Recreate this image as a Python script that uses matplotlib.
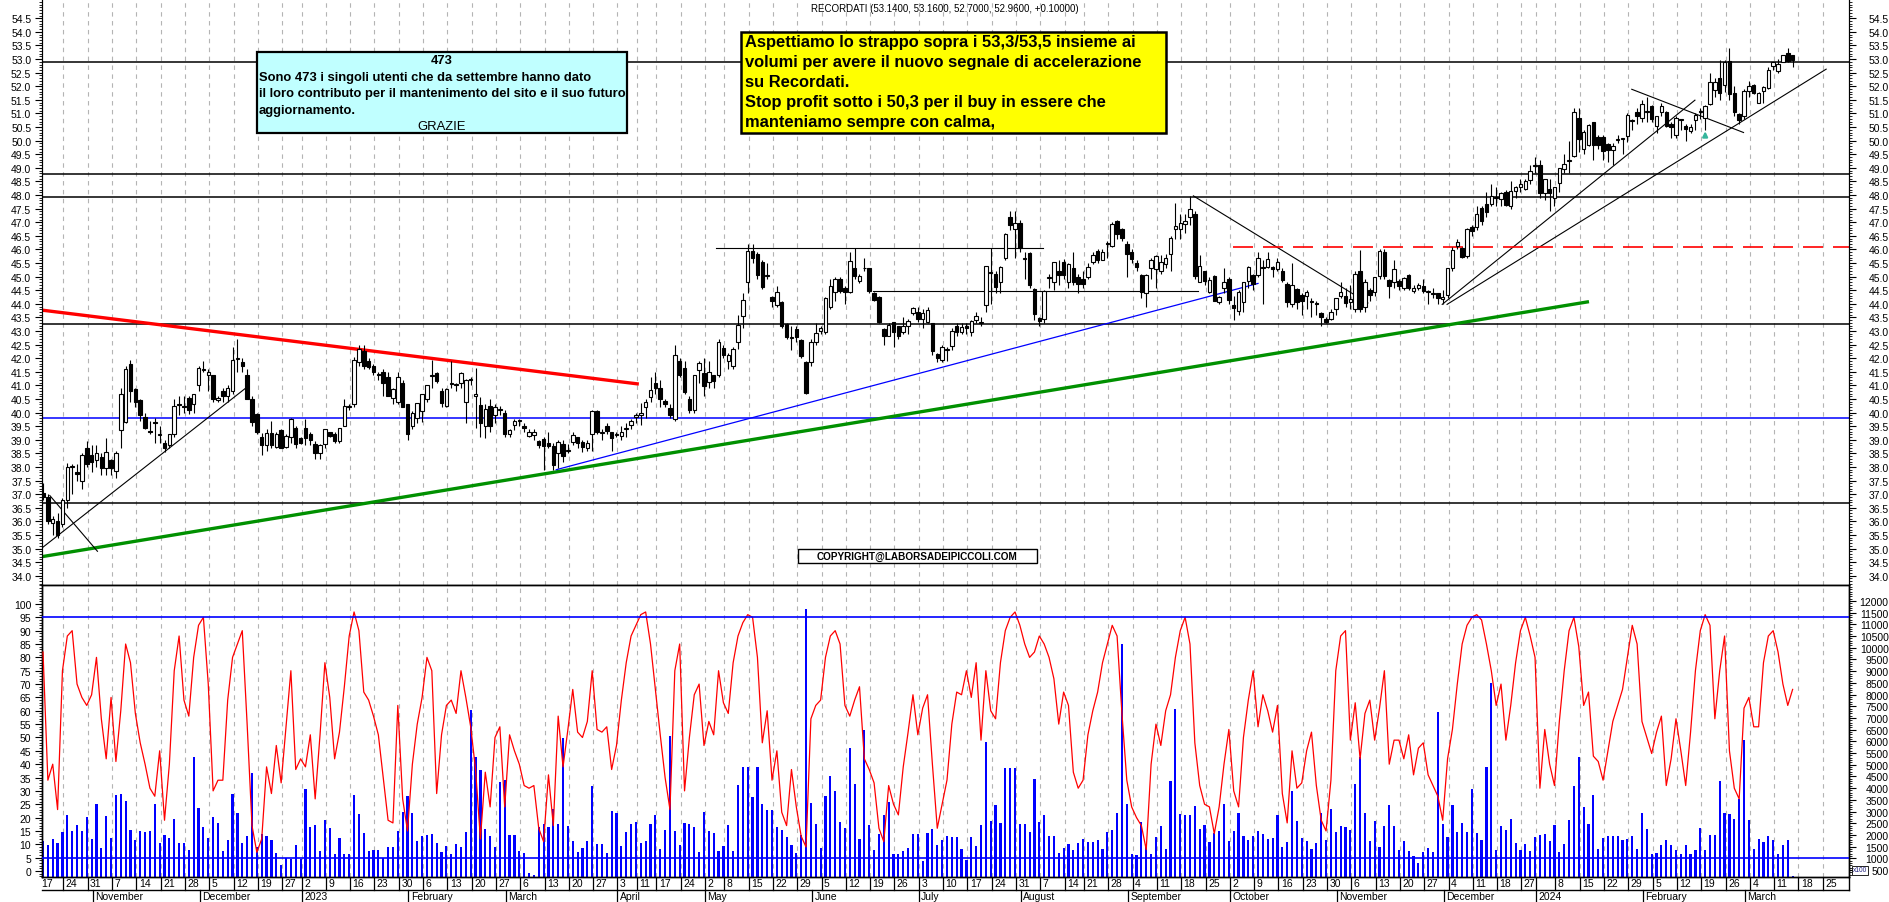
import numpy as np
import pandas as pd
import matplotlib
matplotlib.use("Agg")
import matplotlib.pyplot as plt
from matplotlib.patches import Rectangle
from matplotlib.ticker import MultipleLocator, FixedLocator
from matplotlib import font_manager

plt.rcParams['font.family'] = ['Liberation Sans', 'DejaVu Sans']

# ---------------- DATA ----------------
title = "RECORDATI (53.1400, 53.1600, 52.7000, 52.9600, +0.10000)"
start_date = '2022-10-17'
end_date = '2024-03-29'
holidays = ['2022-12-26', '2023-04-07', '2023-04-10', '2023-05-01', '2023-08-15',
            '2023-12-25', '2023-12-26', '2024-01-01']
skip_week_labels = ['2024-01-02']

opens = [
 37.05,36.9,35.95,36.0,35.9,36.8,38.0,37.8,37.5,38.7,
 38.45,38.25,38.35,37.95,38.25,37.85,39.35,39.65,41.8,40.85,
 40.45,39.85,39.3,39.65,39.18,38.9,38.8,39.2,40.3,40.25,
 40.55,40.3,41.0,41.55,41.4,41.4,40.45,40.8,40.62,40.78,
 41.97,41.85,41.4,40.5,39.95,39.1,38.8,39.25,38.75,39.35,
 38.72,39.12,39.45,39.05,39.45,39.23,38.85,38.5,38.85,39.3,
 39.2,38.95,39.5,40.2,40.3,41.85,42.28,41.9,41.7,41.4,
 41.5,41.3,40.55,40.4,41.1,40.3,39.5,39.8,40.05,40.5,
 41.33,41.45,40.8,40.25,41.05,41.0,41.1,40.4,41.2,40.6,
 40.28,39.52,40.25,39.9,40.1,40.0,39.2,39.55,39.68,39.5,
 39.13,39.17,38.97,39.02,38.9,38.78,38.5,38.85,38.58,38.93,
 39.09,38.93,38.68,39.2,40.06,39.25,39.52,39.27,39.18,39.15,
 39.41,39.55,39.83,39.9,40.2,40.56,41.1,40.9,40.44,40.17,
 39.77,41.9,41.63,40.5,40.1,41.57,41.45,41.14,41.38,41.4,
 42.36,41.9,41.7,42.58,43.56,44.79,45.93,45.82,45.52,45.04,
 44.24,43.95,44.05,43.26,42.75,43.07,42.68,41.85,41.87,42.6,
 43.0,42.98,43.87,44.44,44.91,44.6,44.45,45.3,44.85,45.3,
 45.3,44.4,44.24,43.07,42.83,43.32,43.17,42.98,43.2,43.68,
 43.71,43.44,
 43.34,43.29,42.15,41.94,42.29,42.44,43.17,42.97,43.17,42.97,
 43.41,43.3,43.96,45.15,45.1,44.79,45.67,47.21,46.77,46.99,
 45.65,45.87,44.54,43.47,43.44,44.96,44.81,45.19,45.55,44.79,
 45.3,44.97,44.91,45.0,45.55,45.95,45.62,46.2,46.14,47.06,
 46.77,46.2,45.92,45.49,45.06,44.4,45.3,45.28,45.22,45.46,
 45.85,46.77,46.77,46.93,47.21,47.3,44.81,45.19,44.45,45.01,
 44.08,44.6,44.93,43.95,43.75,44.05,44.85,45.06,45.06,45.34,
 45.37,45.34,45.28,45.22,44.73,43.99,44.54,44.32,44.3,44.11,
 44.04,43.66,43.46,43.44,43.81,44.3,44.3,44.05,43.81,45.22,
 43.87,44.5,44.42,45.03,45.91,44.87,44.79,44.85,44.6,45.07,
 44.48,44.6,44.66,44.42,44.38,44.38,44.17,44.32,45.3,46.13,
 46.05,45.77,46.84,46.83,47.54,47.67,47.67,47.89,47.85,48.12,
 47.6,48.16,48.28,48.24,48.56,49.08,49.1,48.07,48.24,47.91,
 48.46,48.95,49.24,49.44,50.85,49.69,49.84,50.67,50.12,50.12,
 49.87,49.66,50.04,50.05,50.18,50.71,51.04,50.85,51.04,51.28,
 50.55,51.06,51.06,50.61,50.2,50.75,50.55,50.36,50.77,51.04,
 50.82,51.34,51.87,52.29,52.04,52.94,51.77,50.98,50.89,51.83,
 52.04,51.4,51.83,51.92,52.73,52.57,52.9,53.24,53.14]

highs = [
 37.4,37.0,36.2,36.3,36.85,38.15,38.1,38.1,38.5,38.95,
 38.8,38.8,38.5,39.05,38.3,38.6,40.9,41.7,41.95,40.9,
 40.5,40.0,39.7,39.8,39.5,39.0,39.2,40.5,40.6,40.6,
 40.6,40.7,41.7,41.9,41.6,41.4,40.6,40.9,41.0,42.4,
 42.7,42.0,41.6,40.6,40.0,39.25,39.4,39.7,39.3,39.4,
 39.2,39.8,39.5,39.1,39.75,39.3,38.95,38.85,39.4,39.3,
 39.3,39.45,40.5,40.3,42.05,42.5,42.5,42.0,41.8,41.5,
 41.6,41.5,40.9,41.5,41.2,40.3,40.05,40.35,40.7,41.0,
 41.95,41.5,40.9,40.9,41.9,41.1,41.5,41.25,41.3,41.65,
 40.56,40.3,40.5,40.3,40.25,40.1,39.4,39.75,39.75,39.6,
 39.4,39.4,39.0,39.1,39.3,38.9,39.0,39.0,38.85,39.3,
 39.1,39.0,39.0,40.1,40.1,39.4,39.6,39.3,39.3,39.5,
 39.6,39.75,40.0,40.35,40.5,41.3,41.5,41.2,40.5,40.3,
 42.5,42.0,41.9,40.6,41.4,41.9,42.0,41.9,41.4,42.7,
 42.5,42.2,42.4,43.6,44.4,46.2,46.2,45.9,45.6,45.5,
 44.3,44.65,44.1,43.3,43.2,43.2,42.7,41.9,42.7,43.3,
 43.2,44.25,44.9,45.0,45.0,44.65,45.9,46.05,45.1,45.7,
 45.3,44.45,44.3,43.1,43.3,43.35,43.2,43.5,43.45,43.9,
 43.9,43.8,
 43.9,43.3,42.2,42.5,42.4,43.1,43.3,43.3,43.3,43.4,
 43.7,43.5,45.4,46.05,45.2,45.4,46.6,47.4,47.4,47.1,
 45.9,45.9,44.6,43.5,44.5,45.1,45.55,45.6,45.65,45.5,
 45.9,45.1,45.2,45.5,45.9,46.0,46.0,46.3,47.0,47.1,
 46.8,46.3,46.0,45.6,45.1,45.1,45.7,45.8,45.8,45.85,
 46.5,47.7,47.3,47.3,47.98,47.4,45.8,45.2,45.0,45.05,
 44.3,45.3,45.0,44.3,44.5,44.8,45.4,45.1,45.9,45.6,
 45.9,45.4,45.7,45.3,44.8,45.5,44.6,44.4,44.5,44.2,
 44.1,43.7,43.5,43.8,44.2,44.8,44.6,44.7,45.2,45.98,
 44.9,44.6,45.0,46.0,46.0,44.9,45.6,44.9,45.0,45.1,
 44.7,44.75,44.9,44.5,44.6,44.4,44.5,45.3,46.1,46.4,
 46.1,46.8,46.9,47.6,47.6,48.1,48.4,48.3,48.1,48.2,
 48.5,48.35,48.6,48.6,49.1,49.4,49.3,48.6,48.6,48.3,
 49.0,49.5,50.0,51.2,51.2,50.4,50.6,50.7,50.2,50.2,
 49.9,49.9,50.2,50.1,51.0,50.8,51.2,51.5,51.6,51.3,
 50.9,51.4,51.1,50.7,50.9,50.8,50.6,50.6,51.0,51.2,
 51.3,52.5,52.3,52.95,52.95,53.4,52.0,51.0,51.9,52.2,
 52.1,51.8,52.0,52.7,52.9,53.0,53.15,53.4,53.16]

lows = [
 36.8,35.9,35.5,35.4,35.8,36.5,37.0,37.5,37.2,38.0,
 37.8,38.0,37.7,37.7,37.7,37.6,38.7,39.6,40.4,40.2,
 39.7,39.4,39.2,38.9,38.9,38.55,38.7,39.1,39.9,40.0,
 39.95,40.0,40.8,41.5,40.8,40.4,40.4,40.4,40.4,40.7,
 41.5,41.5,40.5,39.5,39.2,38.45,38.6,38.7,38.7,38.7,
 38.7,38.9,38.7,38.85,38.8,38.8,38.3,38.3,38.7,39.1,
 38.9,38.9,39.5,40.1,40.2,41.7,41.6,41.6,41.4,41.2,
 40.6,40.6,40.3,40.3,40.2,39.0,39.4,39.6,39.65,40.4,
 40.9,41.1,40.2,40.2,40.9,40.8,40.9,39.6,41.0,39.45,
 39.1,39.05,39.3,39.6,39.9,39.1,39.1,39.35,39.5,39.3,
 39.1,39.0,38.7,37.9,38.7,37.9,37.95,38.2,38.5,38.8,
 38.7,38.55,38.6,38.6,39.2,39.0,39.2,38.6,39.1,39.0,
 39.1,39.4,39.6,39.55,39.8,40.4,40.7,40.2,40.2,39.8,
 39.7,41.3,40.7,40.0,40.0,41.1,40.6,40.9,40.9,41.3,
 42.0,41.6,41.6,42.35,43.1,44.4,45.5,44.9,44.55,44.9,
 43.9,43.9,43.1,42.7,42.3,42.6,42.0,40.7,41.7,42.5,
 42.9,42.9,43.8,44.1,44.4,44.0,44.4,44.9,44.75,45.2,
 44.4,44.1,43.3,42.5,42.8,42.4,42.7,42.9,42.9,43.6,
 43.35,43.1,
 43.3,42.1,41.85,41.85,41.9,42.3,42.8,42.9,42.9,42.8,
 43.3,43.2,43.7,44.0,44.4,44.4,45.6,46.7,45.7,45.9,
 44.9,44.6,43.4,43.2,43.3,44.6,44.5,44.7,44.9,44.6,
 44.7,44.4,44.6,44.9,45.45,45.5,45.6,45.7,46.1,46.4,
 46.3,45.0,45.5,45.2,44.2,43.9,44.9,44.6,45.1,45.3,
 45.2,46.4,46.4,46.6,46.9,44.9,44.8,44.7,44.4,44.1,
 44.0,44.4,44.0,43.4,43.6,43.7,44.6,44.5,45.0,44.0,
 45.3,45.0,45.2,44.8,43.9,43.9,43.8,43.6,43.8,43.5,
 43.6,43.2,43.3,43.4,43.6,44.2,43.9,43.8,43.7,43.7,
 43.7,44.1,44.3,44.9,44.9,44.2,44.6,44.5,44.5,44.5,
 44.4,44.5,44.4,44.0,44.2,44.0,44.0,44.2,45.2,46.0,
 45.7,45.7,46.5,46.7,46.9,47.2,47.6,47.6,47.6,47.6,
 47.5,47.9,48.1,48.2,48.4,48.8,47.9,47.8,47.4,47.6,
 48.1,48.8,48.8,49.4,49.6,49.5,49.8,49.3,49.7,49.3,
 49.2,49.1,49.9,49.5,49.95,50.4,50.6,50.7,50.7,50.7,
 50.3,50.9,50.5,50.1,50.1,50.4,50.0,50.3,50.4,50.8,
 50.4,51.3,51.6,51.5,51.8,51.5,50.9,50.6,50.8,51.6,
 51.7,51.4,51.4,51.9,52.6,52.5,52.9,52.9,52.70]

closes = [
 36.9,36.0,36.1,35.5,36.8,38.0,38.05,37.75,38.45,38.1,
 38.2,38.5,37.95,38.55,37.95,38.5,40.7,41.6,40.8,40.4,
 39.9,39.45,39.28,39.62,39.2,38.7,39.2,40.25,40.28,40.22,
 40.1,40.7,41.65,41.58,41.5,40.5,40.55,40.6,40.9,41.95,
 41.99,41.7,40.5,39.65,39.3,38.8,39.25,38.8,39.2,38.7,
 39.15,39.77,38.84,38.9,39.05,38.98,38.5,38.8,39.4,39.15,
 38.95,39.45,40.23,40.22,41.95,42.35,41.7,41.67,41.5,41.38,
 41.1,40.6,40.85,41.3,40.2,39.2,40.0,40.35,40.7,41.0,
 41.35,41.18,40.35,40.85,41.1,41.05,41.45,41.2,41.22,40.7,
 39.62,40.13,39.52,40.2,40.15,39.2,39.35,39.7,39.7,39.44,
 39.3,39.3,38.8,38.78,38.78,38.07,38.93,38.4,38.6,39.17,
 38.9,38.75,38.9,40.06,39.3,39.27,39.33,39.05,39.2,39.3,
 39.43,39.7,39.93,40.0,40.38,40.84,40.9,40.5,40.32,39.92,
 42.1,41.4,40.77,40.1,41.4,41.81,40.99,41.5,41.16,42.58,
 42.13,42.1,42.34,43.22,44.15,45.95,45.67,45.06,44.63,45.06,
 44.11,44.42,43.2,42.77,42.77,42.77,42.07,40.71,42.6,42.92,
 43.1,44.2,44.67,44.93,44.48,44.42,45.58,45.03,45.01,45.32,
 44.46,44.15,43.34,42.83,43.22,42.98,42.8,43.2,43.38,43.83,
 43.44,43.66,
 43.76,42.28,41.99,42.4,42.31,43.01,42.97,43.13,43.11,43.38,
 43.56,43.32,45.4,45.18,44.63,45.34,46.55,46.9,46.99,46.04,
 45.67,44.69,43.62,43.38,44.46,44.98,45.52,45.07,45.06,45.46,
 44.82,44.73,44.73,45.34,45.79,45.61,45.92,46.22,46.93,46.57,
 46.41,45.83,45.65,45.34,44.42,45.06,45.6,45.77,45.52,45.7,
 46.41,46.87,46.99,47.06,47.48,45.01,45.38,44.85,44.87,44.11,
 44.24,44.8,44.15,43.83,44.44,44.79,45.34,44.73,45.67,45.3,
 45.65,45.28,45.55,44.89,44.08,44.69,44.08,44.11,44.44,44.05,
 44.0,43.5,43.34,43.69,44.2,44.42,44.03,44.17,45.1,43.81,
 44.81,44.33,44.97,45.93,45.03,44.64,45.28,44.66,44.94,44.6,
 44.6,44.69,44.48,44.44,44.36,44.23,44.26,45.3,45.97,46.29,
 45.74,46.77,46.69,47.29,47.05,47.38,47.97,47.91,48.06,47.63,
 48.15,48.28,48.4,48.52,48.89,49.1,48.07,48.59,48.07,48.28,
 48.98,49.14,49.26,51.04,50.06,50.33,50.57,49.84,49.84,49.63,
 49.66,49.79,50.06,50.06,50.94,50.73,50.89,51.34,51.06,50.79,
 50.89,51.28,50.55,50.52,50.82,50.77,50.42,50.52,50.94,51.06,
 51.28,52.16,52.14,51.75,52.9,51.71,51.04,50.77,51.83,52.02,
 51.77,51.77,51.99,52.6,52.9,52.81,53.14,52.92,52.96]

# volume (x100 shares)
volume = [
 1720,1580,1820,1650,2110,2850,2180,2410,2160,2780,
 1830,3330,1420,2820,1880,3720,3770,3470,2230,1770,
 2160,2110,2160,3310,1650,2000,1880,2690,1650,1650,
 1360,5330,3130,2340,1880,2780,2510,1310,1770,3740,
 2920,1670,1950,4640,1490,2060,1950,1770,1210,720,
 1010,960,1580,980,3950,2330,2440,1330,2620,2280,
 1190,1860,1190,1180,3720,2900,2090,1310,1360,1350,
 1030,1490,1470,2150,2970,3660,2940,1740,1970,1980,
 2040,1660,1260,1540,1170,1630,1490,2110,7330,5320,
 4760,2250,1970,1490,4250,4340,2000,2000,1330,1210,
 380,300,2320,2460,2330,3100,2480,6140,2400,1740,
 1260,1440,1740,4110,1600,1630,1240,3030,2940,1520,
 2120,2470,2560,1640,1720,2470,2860,1400,2200,6250,
 2170,1550,2500,2460,2350,1290,2960,2160,2090,1320,
 1510,2430,1320,4130,4920,4920,3630,4920,3310,3080,
 3050,2320,2200,1930,1560,1210,1980,11650,3380,2470,
 1420,3660,4530,3890,2560,2290,5700,4180,1820,6480,
 2440,1370,2040,2850,3400,1190,1180,1310,1440,2060,
 2050,900,2090,2250,1550,1790,1940,1900,1930,1400,
 940,1900,1510,2430,5960,2590,3280,2500,4860,4850,
 4850,2480,2480,2130,4410,2560,2850,1970,1970,1240,
 1430,1630,1350,1640,1810,1700,1700,1790,1410,2130,
 2230,2940,10160,3310,1190,1140,2560,1470,1190,1900,
 2400,1400,4300,7400,2900,2850,2870,3240,2240,2430,
 1710,2100,2160,3310,1720,2170,2940,1950,1790,1940,
 2160,2050,1830,1860,2850,1490,1710,3890,2580,1870,
 1720,1400,1640,2940,1770,3100,2110,2400,2330,2210,
 4190,5320,2930,1720,2590,1490,2400,3280,2400,1370,
 1720,1320,1080,780,1250,1440,1250,7250,2480,1930,
 3280,2120,2520,2110,3950,2100,1780,4920,8500,1370,
 2390,2210,2660,1640,1350,1600,1320,1900,2010,2050,
 1720,2440,1290,1630,2640,4070,5320,3190,2470,3710,
 1400,1880,1970,1970,1970,1790,1820,1970,1400,2940,
 2250,1180,1210,1580,1770,1580,1350,1180,1580,1170,
 1370,2290,1350,2010,1980,4320,2930,2890,2690,3550,
 6070,2640,1400,1810,1710,1950,1770,1190,1550,1780,
 260]

# oscillator (0-100)
osc = [
 82,34,40,23,75,88,90,70,65,62,
 66,80,57,42,65,41,60,85,78,59,
 48,40,31,28,45,19,40,75,88,64,
 58,80,92,95,70,30,34,34,64,80,
 85,90,55,17,7,12,39,29,47,33,
 54,75,38,42,39,51,27,51,78,65,
 42,52,69,88,97,90,67,64,58,51,
 35,19,18,62,27,15,40,55,65,80,
 75,29,51,62,64,59,75,65,54,38,
 12,37,24,50,54,24,51,45,40,32,
 31,32,16,11,36,17,58,39,53,68,
 52,50,56,75,53,52,54,38,47,64,
 78,88,92,96,97,85,68,51,35,23,
 75,85,30,50,66,70,47,56,51,75,
 63,59,78,88,93,96,95,80,48,60,
 34,45,22,17,38,24,13,9,57,62,
 64,80,88,90,85,62,58,64,69,42,
 38,33,16,11,32,25,21,39,52,66,
 51,61,66,40,16,25,34,55,67,66,
 75,65,78,49,75,60,57,78,90,95,
 97,92,85,80,82,88,85,80,72,55,
 67,62,37,31,34,51,60,67,78,85,
 92,88,59,34,24,20,17,8,40,55,
 47,60,66,80,90,95,85,48,32,25,
 24,14,24,40,53,30,24,50,64,75,
 54,66,60,52,62,29,18,45,31,33,
 45,52,32,19,15,34,75,88,90,49,
 63,42,59,64,49,61,75,40,49,49,
 42,51,36,46,48,36,32,28,19,42,
 53,70,85,92,95,96,94,85,75,62,
 70,49,62,78,90,95,88,80,31,53,
 40,32,56,75,90,95,84,62,67,43,
 41,34,45,56,62,68,80,92,85,56,
 50,44,52,58,32,42,57,45,32,52,
 75,90,96,92,57,75,88,45,31,27,
 61,65,54,54,78,88,90,82,70,62,
 68]

# horizontal reference levels (price)
black_levels = [52.88, 48.76, 47.92, 43.25, 36.68]
blue_levels = [39.80]
osc_levels = [95, 5]

# trend lines: (index, price) endpoints
red_trend = [(-0.3, 43.77), (122.6, 41.05)]
green_trend = [(-0.3, 34.70), (318.1, 44.08)]
blue_trend = [(105.6, 37.90), (250.0, 44.75)]
black_trends = [
    [(-0.3, 35.01), (42.2, 40.97)],
    [(1.4, 36.95), (11.2, 34.90)],
    [(236.7, 47.97), (272.6, 44.03)],
    [(287.9, 43.98), (339.9, 51.49)],
    [(288.9, 43.98), (366.9, 52.63)],
    [(326.9, 51.89), (349.9, 50.30)],
    [(138.5, 46.07), (205.8, 46.07)],
    [(170.8, 44.46), (237.7, 44.46)],
]
red_dashed = [(244.9, 46.08), (371.6, 46.08)]
signal_arrow = (342, 50.05, 50.45)

yellow_text = ["Aspettiamo lo strappo sopra i 53,3/53,5 insieme ai",
               "volumi per avere il nuovo segnale di accelerazione",
               "su Recordati.",
               "Stop profit sotto i 50,3 per il buy in essere che",
               "manteniamo sempre con calma,"]
cyan_title = "473"
cyan_text = ["Sono 473 i singoli utenti che da settembre hanno dato",
             "il loro contributo per il mantenimento del sito e il suo futuro",
             "aggiornamento."]
cyan_footer = "GRAZIE"
copyright_text = "COPYRIGHT@LABORSADEIPICCOLI.COM"

month_names = {1: None, 2: 'February', 3: 'March', 4: 'April', 5: 'May', 6: 'June',
               7: 'July', 8: 'August', 9: 'September', 10: 'October',
               11: 'November', 12: 'December'}

# ---------------- LAYOUT ----------------
W, H = 1890, 903
fig = plt.figure(figsize=(W / 100, H / 100), dpi=100)
fig.patch.set_facecolor('white')

def fx(px):
    return px / W

def fy(py):
    return 1 - py / H

L_px, R_px = 41.7, 1849.0
P_bot, V_bot = 586.0, 878.0
XMIN, XMAX = -0.27, 371.6
YMIN, YMAX = 33.66, 55.21
RIGHT_PAD = 23.5

ax = fig.add_axes([fx(L_px), fy(P_bot), fx(R_px - L_px), P_bot / H])
axr = ax.twinx()
axv = fig.add_axes([fx(L_px), fy(V_bot), fx(R_px - L_px), (V_bot - P_bot) / H])
axo = axv.twinx()
axd = fig.add_axes([fx(L_px), 0, fx(R_px - L_px), (H - V_bot) / H])

# calendar
cal = pd.bdate_range(start_date, end_date)
cal = cal[~cal.isin(pd.to_datetime(holidays))]
weeks = cal.to_period('W')
week_starts = [i for i in range(len(cal)) if i == 0 or weeks[i] != weeks[i - 1]]
month_starts = [i for i in range(1, len(cal)) if cal[i].month != cal[i - 1].month]
SEP = 0.8
grid_kw = dict(color='#b4b4b4', lw=0.8, ls=(0, (4, 4)), zorder=0)

# ---------------- PRICE PANEL ----------------
o = np.array(opens); h = np.array(highs); l = np.array(lows); c = np.array(closes)
x = np.arange(len(c))
for ws in week_starts:
    ax.axvline(ws - SEP, **grid_kw)
    axv.axvline(ws - SEP, **grid_kw)

for lv in black_levels:
    ax.axhline(lv, color='black', lw=1.1, zorder=2)
for lv in blue_levels:
    ax.axhline(lv, color='#0000ff', lw=1.1, zorder=2)

ax.plot(*zip(*red_trend), color='#ff0000', lw=2.4, zorder=2, solid_capstyle='butt')
ax.plot(*zip(*green_trend), color='#009000', lw=2.4, zorder=2, solid_capstyle='butt')
ax.plot(*zip(*blue_trend), color='#0000ff', lw=0.9, zorder=2)
for seg in black_trends:
    ax.plot(*zip(*seg), color='black', lw=0.8, zorder=2)
ax.plot(*zip(*red_dashed), color='#ff0000', lw=1.2, ls=(0, (12, 6)), zorder=2)

up = c >= o
body_lo = np.minimum(o, c)
body_h = np.maximum(np.abs(c - o), 0.035)
ax.vlines(x, l, h, color='black', lw=0.8, zorder=3)
ax.bar(x[up], body_h[up], bottom=body_lo[up], width=0.72, facecolor='white',
       edgecolor='black', lw=0.8, zorder=4)
ax.bar(x[~up], body_h[~up], bottom=body_lo[~up], width=0.72, facecolor='black',
       edgecolor='black', lw=0.8, zorder=4)

ax.annotate('', xy=(signal_arrow[0], signal_arrow[2]), xytext=(signal_arrow[0], signal_arrow[1]),
            arrowprops=dict(arrowstyle='-|>', color='#35b59c', lw=1.6, mutation_scale=7), zorder=5)

price_major = np.arange(34.0, 54.51, 0.5)
fmt = plt.FuncFormatter(lambda v, p: f"{v:.1f}")
for a in (ax, axr):
    a.set_xlim(XMIN, XMAX)
    a.set_ylim(YMIN, YMAX)
    a.set_xticks([])
    a.yaxis.set_major_locator(FixedLocator(price_major))
    a.yaxis.set_minor_locator(MultipleLocator(0.1))
    a.yaxis.set_major_formatter(fmt)
    a.tick_params(axis='y', which='both', direction='out', labelsize=7.5, colors='black')
    a.tick_params(axis='y', which='major', length=5)
    a.tick_params(axis='y', which='minor', length=2.5)
    a.spines['top'].set_visible(False)
ax.tick_params(axis='y', which='major', pad=2.5)
for t in axr.yaxis.get_major_ticks():
    t.label2.set_horizontalalignment('right')
axr.tick_params(axis='y', which='major', pad=RIGHT_PAD)
axr.patch.set_visible(False)

# ---------------- VOLUME / OSCILLATOR PANEL ----------------
VOL_LO, VOL_HI = 201, 12684
vol = np.array(volume)
axv.bar(np.arange(len(vol)), vol - VOL_LO, bottom=VOL_LO, width=0.45, color='#0000ff', zorder=2)
axv.set_ylim(VOL_LO, VOL_HI)
axv.set_xlim(XMIN, XMAX)
axv.set_xticks([])
axv.yaxis.tick_right()
axv.yaxis.set_major_locator(FixedLocator(np.arange(500, 12001, 500)))
axv.yaxis.set_minor_locator(MultipleLocator(100))
axv.tick_params(axis='y', which='both', direction='out', labelsize=7.5, colors='black')
axv.tick_params(axis='y', which='major', length=5)
axv.tick_params(axis='y', which='minor', length=2.5)
for t in axv.yaxis.get_major_ticks():
    t.label2.set_horizontalalignment('right')
axv.tick_params(axis='y', which='major', pad=RIGHT_PAD)

axo.plot(np.arange(len(osc)), osc, color='#ff0000', lw=0.9, zorder=3)
for lv in osc_levels:
    axo.axhline(lv, color='#0000ff', lw=1.2, zorder=3)
axo.set_ylim(-2.25, 107.1)
axo.set_xlim(XMIN, XMAX)
axo.yaxis.tick_left()
axo.yaxis.set_major_locator(FixedLocator(np.arange(0, 101, 5)))
axo.yaxis.set_minor_locator(MultipleLocator(1))
axo.tick_params(axis='y', which='both', direction='out', labelsize=7.5, colors='black')
axo.tick_params(axis='y', which='major', length=5, pad=2.5)
axo.tick_params(axis='y', which='minor', length=2.5)
for a in (axv, axo):
    for s in a.spines.values():
        s.set_linewidth(1.0)

# ---------------- DATE STRIP ----------------
axd.set_xlim(XMIN, XMAX)
axd.set_ylim(0, H - V_bot)
axd.axis('off')
row_y = H - 891
axd.plot([XMIN, XMAX], [row_y, row_y], color='black', lw=1.0, clip_on=False)
axd.plot([XMAX, XMAX], [row_y, H - V_bot], color='black', lw=1.0, clip_on=False)
skip = set(pd.to_datetime(skip_week_labels))
for ws in week_starts:
    if ws > 0:
        axd.plot([ws - SEP, ws - SEP], [row_y, H - V_bot], color='black', lw=0.9)
    if cal[ws] in skip:
        continue
    axd.text(ws - 0.3, (row_y + H - V_bot) / 2, str(cal[ws].day), ha='left', va='center',
             fontsize=7.5, color='black')
for ms in month_starts:
    axd.plot([ms - SEP, ms - SEP], [0, row_y], color='black', lw=0.9)
    name = month_names[cal[ms].month] or str(cal[ms].year)
    axd.text(ms - 0.3, row_y / 2 - 0.5, name, ha='left', va='center', fontsize=7.5, color='black')

# ---------------- ANNOTATION BOXES ----------------
def box(x0, y0, x1, y1, fc, lw):
    fig.add_artist(Rectangle((fx(x0), fy(y1)), fx(x1 - x0), (y1 - y0) / H,
                             transform=fig.transFigure, facecolor=fc, edgecolor='black',
                             lw=lw, zorder=10))

names = {f.name for f in font_manager.fontManager.ttflist}
if 'Liberation Sans Narrow' in names:
    narrow_family, narrow_size = 'Liberation Sans Narrow', 10.3
else:
    narrow_family, narrow_size = 'Liberation Sans', 9.4

fig.text(fx(945), fy(9), title, ha='center', va='center', fontsize=7, color='black', zorder=11)

box(257, 53, 627, 134, '#c0ffff', 1.6)
fig.text(fx(442), fy(61), cyan_title, ha='center', va='center', fontsize=narrow_size,
         family=narrow_family, weight='bold', zorder=11)
for k, line in enumerate(cyan_text):
    fig.text(fx(259), fy(78 + 16.5 * k), line, ha='left', va='center', fontsize=narrow_size,
             family=narrow_family, weight='bold', zorder=11)
fig.text(fx(442), fy(127), cyan_footer, ha='center', va='center', fontsize=narrow_size,
         family=narrow_family, weight='normal', zorder=11)

box(741, 33, 1166, 134, '#ffff00', 1.8)
for k, line in enumerate(yellow_text):
    fig.text(fx(745), fy(43 + 19.9 * k), line, ha='left', va='center', fontsize=11.9,
             weight='bold', zorder=11)

box(798, 550, 1037, 564, 'white', 1.0)
fig.text(fx(917.5), fy(557), copyright_text, ha='center', va='center', fontsize=7.2,
         weight='bold', zorder=11)

fig.text(fx(1853), fy(871), 'x100', ha='left', va='center', fontsize=4.8, color='#202080',
         zorder=11, bbox=dict(boxstyle='square,pad=0.15', fc='white', ec='black', lw=0.6))

fig.savefig('out.png', dpi=100)
